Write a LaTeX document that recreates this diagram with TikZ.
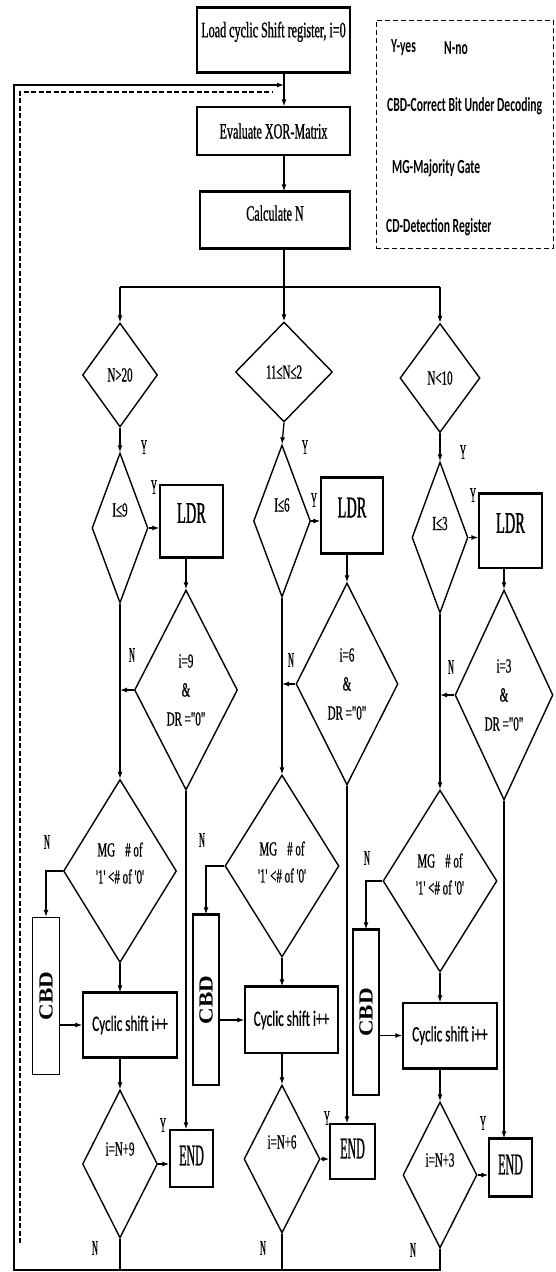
\documentclass[tikz,border=0pt]{standalone}
\usepackage{fontspec}
\usepackage{graphicx}
\setmainfont{Liberation Serif}
\usetikzlibrary{shapes.geometric,arrows.meta}
\newfontfamily\tnrA[FakeStretch=0.55,FakeBold=0.8]{Liberation Serif}
\newfontfamily\tnrB[FakeStretch=0.48,FakeBold=1]{Liberation Serif}
\newfontfamily\tnrC[FakeStretch=0.40,FakeBold=0.8]{Liberation Serif}
\newfontfamily\tnrW[FakeStretch=1.15]{Liberation Serif}
\newfontfamily\legfnt[FakeStretch=0.58]{Carlito}
\newfontfamily\cycfnt[FakeStretch=0.60,FakeBold=0.6]{Carlito}
\begin{document}
\begin{tikzpicture}[x=1pt,y=-1pt,
  line/.style={line width=1.3pt},
  arr/.style={line width=1.3pt,-{Latex[length=7pt,width=5pt]}},
  box/.style={draw,line width=1.3pt,rectangle,inner sep=0pt,align=center},
  dia/.style={draw,line width=1.4pt,diamond,inner sep=0pt},
  heavy/.style={line width=3.2pt},
  ser/.style={font=\tnrA\fontsize{22}{26}\selectfont},
  dtxt/.style={font=\tnrA\fontsize{20}{29}\selectfont,align=center,inner sep=0pt},
  mgtxt/.style={font=\tnrA\fontsize{20}{27}\selectfont,align=center,inner sep=0pt},
  ldr/.style={font=\tnrB\fontsize{30}{32}\selectfont},
  endt/.style={font=\tnrC\fontsize{30}{32}\selectfont},
  cyc/.style={font=\cycfnt\fontsize{22}{26}\selectfont},
  cbd/.style={font=\tnrW\bfseries\fontsize{20}{22}\selectfont},
  lbl/.style={font=\tnrC\fontsize{21}{24}\selectfont,inner sep=0pt},
  leg/.style={font=\legfnt\bfseries\fontsize{20}{24}\selectfont,inner sep=0pt,anchor=west},
  dashline/.style={line width=1.6pt,dash pattern=on 5pt off 2.5pt}
]
\useasboundingbox (0,0) rectangle (555,1272);

% ---------- top ----------
\coordinate (spine) at (284,0);
\node[box,ser,minimum width=153pt,minimum height=64pt,text depth=21pt] (load) at (273.5,40) {Load cyclic Shift register, i=0};
\node[box,ser,minimum width=153pt,minimum height=48pt] (xor) at (273.5,131) {Evaluate XOR-Matrix};
\node[box,ser,minimum width=150pt,minimum height=56pt,text depth=14pt] (calc) at (275,220) {Calculate N};
\draw[heavy] (load.north west) -- (load.north east);
\draw[heavy] (load.south west) -- (load.south east);
\draw[heavy] (calc.north west) -- (calc.north east);
\draw[heavy] (calc.south west) -- (calc.south east);
\draw[arr] (load.south -| spine) -- (xor.north -| spine);
\draw[arr] (xor.south -| spine) -- (calc.north -| spine);

% ---------- legend ----------
\node[draw,line width=1pt,dash pattern=on 5pt off 3pt,minimum width=177pt,minimum height=228pt] (legend) at (464.5,134) {};
\node[leg] (ly) at (391,48) {Y-yes};
\node[leg] (ln) at (444,48) {N-no};
\node[leg] (lc) at (387,106) {CBD-Correct Bit Under Decoding};
\node[leg] (lm) at (392,168) {MG-Majority Gate};
\node[leg] (ld) at (386,227) {CD-Detection Register};

% ---------- first decisions ----------
\node[dia,minimum width=75pt,minimum height=104pt] (d1) at (120,375) {};
\node[dtxt] (d1t) at (d1) {N>20};
\node[dia,minimum width=97pt,minimum height=100pt] (d2) at (284,372) {};
\node[dtxt] (d2t) at (d2) {11≤N≤2};
\node[dia,minimum width=80pt,minimum height=109pt] (d3) at (440,378) {};
\node[dtxt] (d3t) at (d3) {N<10};
\coordinate (busL) at (120,287);
\coordinate (busR) at (440,287);
\draw[line] (busL) -- (busR);
\draw[arr] (calc.south -| spine) -- (d2.north);
\draw[arr] (busL) -- (d1.north);
\draw[arr] (busR) -- (d3.north);

% ---------- column 1 ----------
\node[dia,minimum width=56pt,minimum height=150pt] (q1) at (120,528) {};
\node[dtxt,yshift=18pt] (q1t) at (q1) {I≤9};
\draw[arr] (d1.south) -- (q1.north);
\node[lbl] (y1a) at (144,447) {Y};
\node[box,ldr,minimum width=63pt,minimum height=72pt,text depth=16pt] (L1) at (191.5,521) {LDR};
\draw[heavy] (L1.south west) -- (L1.south east);
\draw[arr] (q1.east) -- (q1.east -| L1.west);
\node[lbl] (y1b) at (154,487) {Y};
\node[dia,minimum width=103pt,minimum height=200pt] (r1) at (186,690) {};
\node[dtxt] (r1t) at (r1) {i=9\\\&\\DR ="0"};
\draw[arr] (L1.south -| r1) -- (r1.north);
\draw[arr] (r1.west) -- (r1.west -| q1);
\node[lbl] (n1a) at (132,655) {N};
\node[dia,minimum width=113pt,minimum height=183pt] (m1) at (120,871) {};
\node[mgtxt,yshift=8pt] (m1t) at (m1) {MG\hspace{10pt}\# of\\'1' <\# of '0'};
\draw[arr] (q1.south) -- (m1.north);
\node[box,cbd,minimum width=27pt,minimum height=157pt] (c1) at (46,996) {\rotatebox{90}{CBD}};
\draw[arr] (m1.west) -| (c1.north);
\node[lbl] (n1b) at (47,842) {N};
\node[box,cyc,minimum width=94pt,minimum height=64pt] (s1) at (130,1025) {Cyclic shift i++};
\draw[heavy] (s1.north west) -- (s1.north east);
\draw[heavy] (s1.south west) -- (s1.south east);
\draw[arr] (m1.south) -- (m1.south |- s1.north);
\draw[arr] (c1.east |- s1) -- (s1.west);
\node[dia,minimum width=75pt,minimum height=148pt] (e1) at (120,1164) {};
\node[dtxt,yshift=15pt] (e1t) at (e1) {i=N+9};
\draw[arr] (s1.south -| e1) -- (e1.north);
\node[box,endt,minimum width=43pt,minimum height=57pt,text depth=6pt] (E1) at (191.5,1158.5) {END};
\draw[arr] (e1.east) -- (e1.east -| E1.west);
\node[lbl] (y1c) at (163,1125) {Y};
\draw[arr] (r1.south) -- (r1.south |- E1.north);
\node[lbl] (n1c) at (95,1248) {N};

% ---------- column 2 ----------
\node[dia,minimum width=57pt,minimum height=152pt] (q2) at (282,521) {};
\node[dtxt,yshift=16pt] (q2t) at (q2) {I≤6};
\draw[arr] (d2.south) -- (q2.north);
\node[lbl] (y2a) at (305,447) {Y};
\node[box,ldr,minimum width=62pt,minimum height=75pt,text depth=16pt] (L2) at (352,515.5) {LDR};
\draw[heavy] (L2.north west) -- (L2.north east);
\draw[heavy] (L2.south west) -- (L2.south east);
\draw[arr] (q2.east) -- (q2.east -| L2.west);
\node[lbl] (y2b) at (314,500) {Y};
\node[dia,minimum width=102pt,minimum height=202pt] (r2) at (347,684) {};
\node[dtxt] (r2t) at (r2) {i=6\\\&\\DR ="0"};
\draw[arr] (L2.south -| r2) -- (r2.north);
\draw[arr] (r2.west) -- (r2.west -| q2);
\node[lbl] (n2a) at (291,660) {N};
\node[dia,minimum width=114pt,minimum height=182pt] (m2) at (282,866) {};
\node[mgtxt,yshift=4pt] (m2t) at (m2) {MG\hspace{10pt}\# of\\'1' <\# of '0'};
\draw[arr] (q2.south) -- (m2.north);
\node[box,cbd,minimum width=26pt,minimum height=170pt] (c2) at (206,1000) {\rotatebox{90}{CBD}};
\draw[heavy] (c2.north west) -- (c2.north east);
\draw[arr] (m2.west) -| (c2.north);
\node[lbl] (n2b) at (202,840) {N};
\node[box,cyc,minimum width=93pt,minimum height=66pt] (s2) at (291.5,1020) {Cyclic shift i++};
\draw[heavy] (s2.north west) -- (s2.north east);
\draw[arr] (m2.south) -- (m2.south |- s2.north);
\draw[arr] (c2.east |- s2) -- (s2.west);
\node[dia,minimum width=76pt,minimum height=148pt] (e2) at (282,1159) {};
\node[dtxt,yshift=17pt] (e2t) at (e2) {i=N+6};
\draw[arr] (s2.south -| e2) -- (e2.north);
\node[box,endt,minimum width=45pt,minimum height=55pt,text depth=6pt] (E2) at (352.5,1151.5) {END};
\draw[arr] (e2.east) -- (e2.east -| E2.west);
\node[lbl] (y2c) at (327,1118) {Y};
\draw[arr] (r2.south) -- (r2.south |- E2.north);
\node[lbl] (n2c) at (263,1248) {N};

% ---------- column 3 ----------
\node[dia,minimum width=56pt,minimum height=151pt] (q3) at (440,537.5) {};
\node[dtxt,yshift=14pt] (q3t) at (q3) {I≤3};
\draw[arr] (d3.south) -- (q3.north);
\node[lbl] (y3a) at (463,452) {Y};
\node[box,ldr,minimum width=63pt,minimum height=74pt,text depth=16pt] (L3) at (510.5,531) {LDR};
\draw[heavy] (L3.north west) -- (L3.north east);
\draw[arr] (q3.east) -- (q3.east -| L3.west);
\node[lbl] (y3b) at (473,495) {Y};
\node[dia,minimum width=98pt,minimum height=210pt] (r3) at (504,695) {};
\node[dtxt] (r3t) at (r3) {i=3\\\&\\DR ="0"};
\draw[arr] (L3.south -| r3) -- (r3.north);
\draw[arr] (r3.west) -- (r3.west -| q3);
\node[lbl] (n3a) at (451,667) {N};
\node[dia,minimum width=114pt,minimum height=182pt] (m3) at (440,881) {};
\node[mgtxt,yshift=7pt] (m3t) at (m3) {MG\hspace{10pt}\# of\\'1' <\# of '0'};
\draw[arr] (q3.south) -- (m3.north);
\node[box,cbd,minimum width=26pt,minimum height=165pt] (c3) at (366,1012.5) {\rotatebox{90}{CBD}};
\draw[heavy] (c3.north west) -- (c3.north east);
\draw[arr] (m3.west) -| (c3.north);
\node[lbl] (n3b) at (367,858) {N};
\node[box,cyc,minimum width=94pt,minimum height=65pt] (s3) at (450,1035.5) {Cyclic shift i++};
\draw[heavy] (s3.south west) -- (s3.south east);
\draw[arr] (m3.south) -- (m3.south |- s3.north);
\draw[arr] (c3.east |- s3) -- (s3.west);
\node[dia,minimum width=74pt,minimum height=146pt] (e3) at (440,1175) {};
\node[dtxt,yshift=15pt] (e3t) at (e3) {i=N+3};
\draw[arr] (s3.south -| e3) -- (e3.north);
\node[box,endt,minimum width=43pt,minimum height=57pt,text depth=6pt] (E3) at (510.5,1167.5) {END};
\draw[heavy] (E3.north west) -- (E3.north east);
\draw[heavy] (E3.south west) -- (E3.south east);
\draw[arr] (e3.east) -- (e3.east -| E3.west);
\node[lbl] (y3c) at (483,1123) {Y};
\draw[arr] (r3.south) -- (r3.south |- E3.north);
\node[lbl] (n3c) at (413,1250) {N};

% ---------- feedback loops ----------
\coordinate (fbB) at (14,1270);
\coordinate (fbT) at (14,85);
\draw[line] (e1.south) -- (e1.south |- fbB);
\draw[line] (e2.south) -- (e2.south |- fbB);
\draw[arr] (e3.south) -- (e3.south |- fbB) -- (fbB) -- (fbT) -- (fbT -| spine);
\coordinate (dsB) at (20,1243);
\coordinate (dsT) at (20,92);
\coordinate (dsE) at (272,92);
\draw[dashline] (dsB) -- (dsT) -- (dsE);
\end{tikzpicture}
\end{document}
